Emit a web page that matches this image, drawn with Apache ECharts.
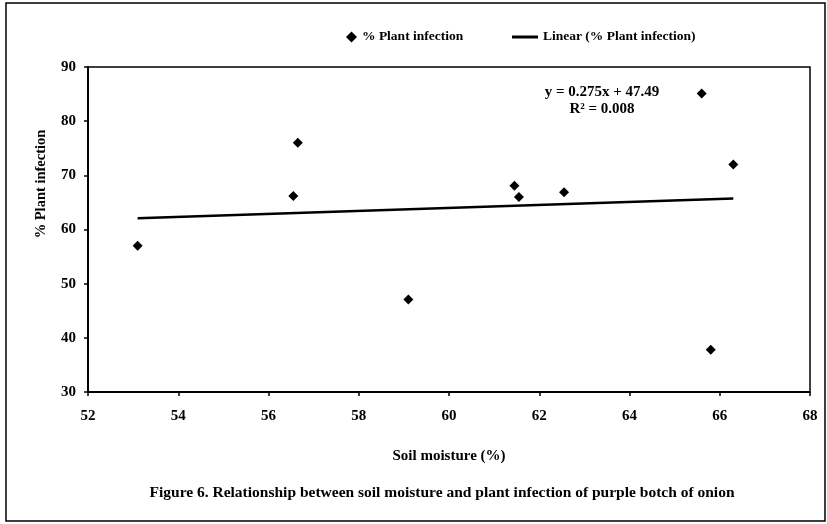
<!DOCTYPE html>
<html>
<head>
<meta charset="utf-8">
<script src="https://cdn.jsdelivr.net/npm/echarts@6/dist/echarts.min.js"></script>
<style>html,body{margin:0;padding:0;background:#fff;}#chart{width:827px;height:524px;}</style>
</head>
<body>
<div id="chart"></div>
<script>
var soilMoisture = [53.1, 56.55, 56.65, 59.1, 61.45, 61.55, 62.55, 65.6, 65.8, 66.3];
var plantInfection = [57, 66.2, 76, 47.1, 68.1, 66.0, 66.9, 85.1, 37.8, 72];
var trendSlope = 0.275, trendIntercept = 47.49;
var trendX = [53.1, 66.3];
var seriesName = '% Plant infection';
var trendName = 'Linear (% Plant infection)';
var eqText = ['y = 0.275x + 47.49', 'R\u00b2 = 0.008'];
var xAxisName = 'Soil moisture (%)';
var captionText = 'Figure 6. Relationship between soil moisture and plant infection of purple botch of onion';

var font = '"Liberation Serif", "Times New Roman", serif';
var pts = soilMoisture.map(function(x, i){ return [x, plantInfection[i]]; });
var trend = trendX.map(function(x){ return [x, trendSlope * x + trendIntercept]; });
var lblStyle = { fontFamily: font, fontWeight: 'bold', fontSize: 13.5, color: '#000' };

var chart = echarts.init(document.getElementById('chart'));
chart.setOption({
  animation: false,
  backgroundColor: '#fff',
  legend: [
    { top: 25, left: 341, itemWidth: 11, itemHeight: 11, textStyle: lblStyle,
      data: [{ name: seriesName, icon: 'diamond', itemStyle: { color: '#000', opacity: 1 } }] },
    { top: 25, left: 507, itemWidth: 26, itemHeight: 3, textStyle: lblStyle,
      data: [{ name: trendName, icon: 'rect' }] }
  ],
  grid: { left: 88, right: 17, top: 67, bottom: 132, show: true, borderColor: '#000', borderWidth: 1.5 },
  xAxis: {
    type: 'value', min: 52, max: 68, interval: 2,
    name: xAxisName, nameLocation: 'middle', nameGap: 57,
    nameTextStyle: { fontFamily: font, fontWeight: 'bold', fontSize: 15, color: '#000' },
    axisLine: { lineStyle: { color: '#000', width: 2 } },
    axisTick: { show: true, length: 4, lineStyle: { color: '#000', width: 1.5 } },
    axisLabel: { fontFamily: font, fontWeight: 'bold', fontSize: 15, color: '#000', margin: 17 },
    splitLine: { show: false }
  },
  yAxis: {
    type: 'value', min: 30, max: 90, interval: 10,
    axisLine: { show: true, lineStyle: { color: '#000', width: 2 } },
    axisTick: { show: true, length: 4, lineStyle: { color: '#000', width: 1.5 } },
    axisLabel: { fontFamily: font, fontWeight: 'bold', fontSize: 15, color: '#000', margin: 12 },
    splitLine: { show: false }
  },
  series: [
    { name: seriesName, type: 'scatter', data: pts, symbol: 'diamond', symbolSize: 10,
      itemStyle: { color: '#000', opacity: 1 } },
    { name: trendName, type: 'line', data: trend, symbol: 'none',
      lineStyle: { color: '#000', width: 2.5 }, itemStyle: { color: '#000' } }
  ],
  graphic: [
    { type: 'rect', shape: { x: 6, y: 3, width: 819, height: 518 }, style: { fill: 'none', stroke: '#000', lineWidth: 1.5 } },
    { type: 'text', x: 602, y: 92, style: { text: eqText[0], fontFamily: font, fontWeight: 'bold', fontSize: 15, fill: '#000', align: 'center', verticalAlign: 'middle' } },
    { type: 'text', x: 602, y: 109, style: { text: eqText[1], fontFamily: font, fontWeight: 'bold', fontSize: 15, fill: '#000', align: 'center', verticalAlign: 'middle' } },
    { type: 'text', x: 41, y: 184, rotation: Math.PI / 2, style: { text: seriesName, fontFamily: font, fontWeight: 'bold', fontSize: 14.5, fill: '#000', align: 'center', verticalAlign: 'middle' } },
    { type: 'text', x: 442, y: 493, style: { text: captionText, fontFamily: font, fontWeight: 'bold', fontSize: 15.5, fill: '#000', align: 'center', verticalAlign: 'middle' } }
  ]
});
</script>
</body>
</html>
